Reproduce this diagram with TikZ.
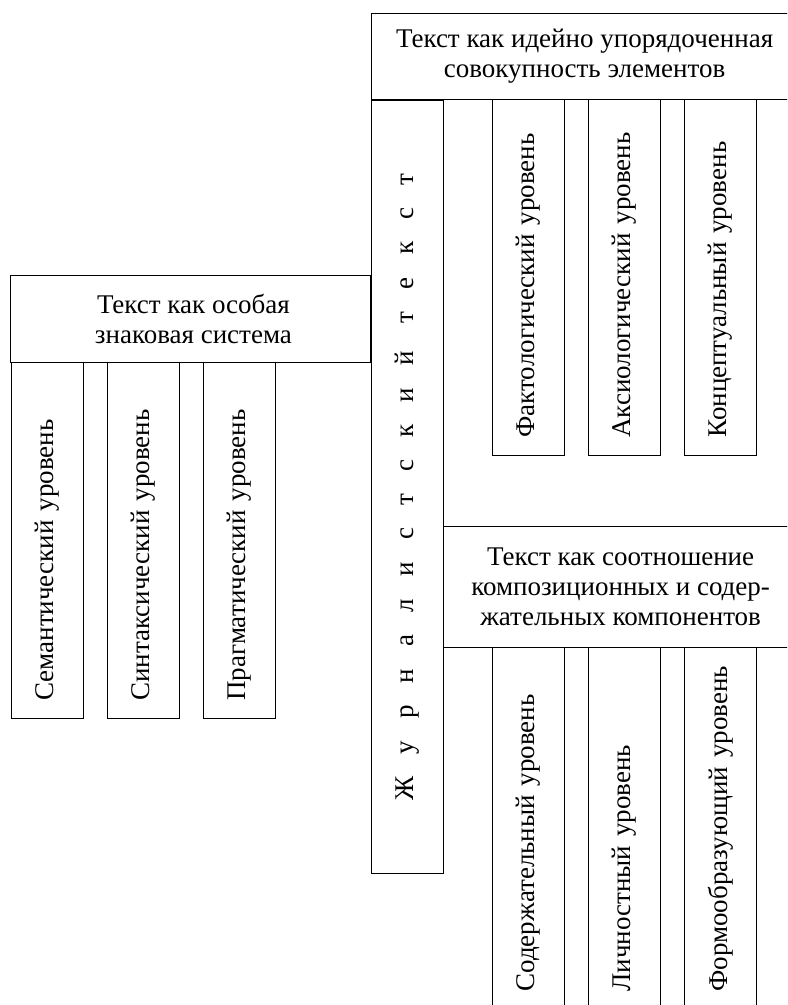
\documentclass[tikz,border=0pt]{standalone}
\usepackage{fontspec}
\setmainfont{Liberation Serif}
\usetikzlibrary{positioning}
\tikzset{
  box/.style={draw, line width=0.6pt, inner sep=0pt, align=center},
  lvl/.style={draw, line width=0.6pt, rotate=90, anchor=north east,
    minimum height=36pt, inner xsep=9pt, inner ysep=0pt,
    text width=#1, align=left}
}
\newcommand{\gp}{\hspace{11.1pt}}

\begin{document}
\begin{tikzpicture}[x=0.5pt,y=-0.5pt,font=\fontsize{13.5}{15}\selectfont]
\useasboundingbox (0,0) rectangle (787,1005);
\clip (0,0) rectangle (787,1005);

% headers
\node[box, anchor=north west, minimum width=213pt, minimum height=43pt] (idea) at (371,13)
  {Текст как идейно упорядоченная\\совокупность элементов};
\node[box, anchor=north east, minimum width=180pt, minimum height=43.5pt] (znak) at (371,275)
  {\hspace{3pt}Текст как особая\\\hspace{3pt}знаковая система};
\node[box, anchor=north west, minimum width=177pt, minimum height=60.5pt] (komp) at (443,526)
  {Текст как соотношение\\композиционных и содер-\\жательных компонентов};

% central column
\node[box, rotate=90, anchor=north east, minimum width=386.5pt, minimum height=36pt] (zhurn) at (idea.south west)
  {Ж\gp у\gp р\gp н\gp а\gp л\gp и\gp с\gp т\gp с\gp к\gp и\gp й\hspace{14pt}т\gp е\gp к\gp с\gp т};

% levels
\node[lvl=160pt] (fakt) at (492,99) {Фактологический уровень};
\node[lvl=160pt] (aksio) at (588,99) {Аксиологический уровень};
\node[lvl=160pt] (konc) at (684,99) {Концептуальный уровень};

\node[lvl=160pt] (sem) at (11,362) {Семантический уровень};
\node[lvl=160pt] (sint) at (107,362) {Синтаксический уровень};
\node[lvl=160pt] (prag) at (203,362) {Прагматический уровень};

\node[lvl=163pt] (soder) at (492,647) {Содержательный уровень};
\node[lvl=163pt] (lichn) at (588,647) {Личностный уровень};
\node[lvl=163pt] (form) at (684,647) {Формообразующий уровень};
\end{tikzpicture}
\end{document}
